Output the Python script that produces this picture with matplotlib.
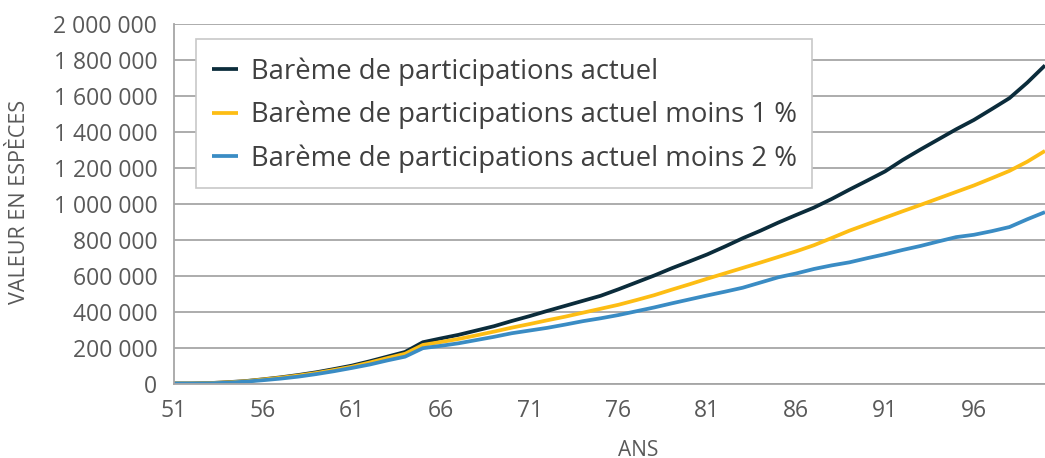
import matplotlib
matplotlib.use("Agg")
import matplotlib.pyplot as plt
from matplotlib.ticker import FuncFormatter, FixedLocator
from matplotlib.patches import Rectangle

ages = list(range(51, 101))
actuel = [3, 3, 5, 10, 16, 26, 37, 50, 65, 83, 102, 126, 152, 178, 232, 253, 273, 297, 321, 350,
          377, 406, 434, 462, 490, 526, 564, 602, 643, 681, 720, 764, 810, 852, 897, 939, 980, 1028,
          1080, 1130, 1181, 1245, 1303, 1359, 1415, 1467, 1527, 1588, 1674, 1770]
moins1 = [3, 3, 5, 9, 15, 25, 35, 47, 61, 78, 96, 119, 144, 168, 217, 233, 250, 270, 291, 313,
          333, 354, 374, 396, 418, 440, 466, 493, 524, 554, 585, 615, 645, 675, 706, 737, 771, 811,
          852, 888, 924, 960, 995, 1031, 1067, 1103, 1143, 1184, 1235, 1295]
moins2 = [3, 3, 4, 7, 13, 21, 30, 41, 55, 71, 89, 108, 131, 152, 199, 212, 226, 244, 262, 282,
          297, 312, 330, 349, 365, 383, 404, 425, 448, 470, 492, 513, 535, 564, 593, 614, 639, 659,
          676, 699, 721, 745, 767, 792, 816, 829, 849, 872, 915, 955]
labels = ["Barème de participations actuel",
          "Barème de participations actuel moins 1 %",
          "Barème de participations actuel moins 2 %"]
colors = ["#0b2c3b", "#fdbd14", "#3a8cc4"]
xticks = [51, 56, 61, 66, 71, 76, 81, 86, 91, 96]
yticks = list(range(0, 2000001, 200000))

W, H = 1045, 458
plt.rcParams['font.family'] = ['Open Sans', 'DejaVu Sans']
fig = plt.figure(figsize=(W/100, H/100), dpi=100)
ax = fig.add_axes([174/W, 1-384/H, 1-174/W, (384-24)/H])

for vals, lab, col in zip([actuel, moins1, moins2], labels, colors):
    ax.plot(ages, [v*1000 for v in vals], color=col, lw=2.7, label=lab, solid_capstyle='butt')

ax.set_xlim(51, 100)
ax.set_ylim(0, 2000000)
ax.xaxis.set_major_locator(FixedLocator(xticks))
ax.yaxis.set_major_locator(FixedLocator(yticks))
ax.yaxis.set_major_formatter(FuncFormatter(lambda v, p: f"{int(v):,}".replace(",", " ")))
ax.grid(axis='y', color='#a6a6a6', lw=1.3)
ax.set_axisbelow(True)
for s in ['top', 'right']:
    ax.spines[s].set_visible(False)
for s in ['left', 'bottom']:
    ax.spines[s].set_color('#a6a6a6')
    ax.spines[s].set_linewidth(1.3)
ax.tick_params(length=0, labelsize=16.5, colors='#595959')
ax.tick_params(axis='y', pad=12)
ax.tick_params(axis='x', pad=11)
ax.set_ylabel("VALEUR EN ESPÈCES", fontsize=15.5, color='#595959')
ax.yaxis.set_label_coords(-0.177, 0.506)
ax.set_xlabel("ANS", fontsize=15, color='#595959')
ax.xaxis.set_label_coords((638-174)/871, -0.186)
ax.xaxis.label.set_va('center')
ax.yaxis.label.set_va('center')

# legend frame
frame = Rectangle((196/W, 1-188/H), (812-196)/W, (188-39)/H,
                  transform=fig.transFigure, facecolor='white',
                  edgecolor='#c8c8c8', lw=1.2, zorder=4, clip_on=False)
ax.add_patch(frame)
leg = ax.legend(loc='upper left', bbox_to_anchor=(212/W, 1-57/H),
                bbox_transform=fig.transFigure, borderaxespad=0, borderpad=0,
                fontsize=19.8, frameon=False, handlelength=0.94, handletextpad=0.49,
                labelspacing=0.55, labelcolor='#404040')
leg.set_zorder(5)

fig.savefig("out.png", dpi=100)
